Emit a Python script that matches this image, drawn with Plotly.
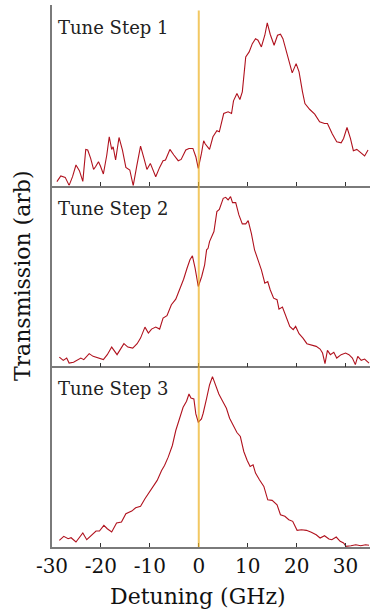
import plotly.graph_objects as go
from plotly.subplots import make_subplots

# ---- data (detuning in GHz, transmission in arbitrary units) ----
x1 = [-29.0, -28.2, -27.3, -26.5, -25.8, -25.1, -24.4, -23.7, -23.1, -22.7, -22.1, -21.5, -21.1, -20.5,
      -20.1, -19.5, -18.8, -18.3, -17.8, -17.5, -17.0, -16.3, -15.6, -14.9, -14.1, -13.4, -12.7, -11.9,
      -11.2, -10.6, -9.9, -9.3, -8.8, -8.0, -7.3, -6.8, -5.9, -5.1, -4.2, -3.6, -2.65, -2.0, -1.2, -0.6,
      -0.1, 0.55, 1.0, 1.3, 2.2, 2.9, 3.7, 4.2, 5.1, 6.0, 6.7, 7.1, 7.8, 8.4, 8.9, 9.6, 10.3, 10.95, 11.6,
      12.1, 12.8, 13.5, 14.0, 14.6, 15.4, 16.1, 16.7, 17.2, 18.0, 18.6, 19.1, 19.9, 20.5, 21.2, 21.7, 22.7,
      23.7, 24.7, 25.7, 26.3, 27.3, 28.2, 29.1, 29.6, 30.3, 31.0, 31.6, 32.3, 33.0, 33.9, 34.6]
y1 = [4, 9.7, 8.3, 0.3, 9, 20.7, 15, 4.3, 36.3, 35.7, 27.3, 16.3, 19, 24,
      19.7, 11.7, 30.7, 49, 36.3, 39, 25.7, 48.3, 35.7, 18.3, 15.7, 0, 19, 39.7,
      27.3, 16.3, 22.3, 15.7, 9, 18.3, 25, 25.7, 36.3, 30.7, 25, 26.3, 35.7, 37.3, 37.3, 29,
      17.3, 32.3, 45, 42, 36.3, 49, 55, 54, 72.3, 74, 72.3, 85, 92.3, 86.3, 94, 129, 134, 142.3, 147.3,
      145.7, 139, 150.7, 163, 151.7, 140.7, 150.7, 151.7, 147.3, 132.3, 123, 113, 122.3, 114, 94, 82.3, 76.3,
      71.7, 64, 62.3, 62.3, 51.7, 44, 43, 47.3, 58.3, 47.3, 35, 36.3, 33, 29.7, 35.7]

x2 = [-28.5, -27.7, -27.0, -26.5, -25.6, -24.8, -24.1, -23.5, -22.4, -21.6, -20.5, -19.5, -18.7, -17.8,
      -16.7, -16.1, -15.3, -14.5, -13.5, -12.6, -11.9, -11.0, -10.3, -9.65, -8.8, -8.0, -7.3, -6.5, -5.6,
      -4.7, -3.9, -3.1, -2.4, -1.8, -1.3, -0.75, -0.1, 0.6, 1.2, 1.6, 1.9, 2.2, 3.1, 3.7, 4.2, 5.0, 5.5,
      6.0, 6.5, 6.9, 7.55, 8.2, 8.9, 9.6, 10.1, 10.75, 11.4, 12.1, 12.8, 13.5, 14.1, 14.6, 15.3, 16.0,
      16.4, 17.1, 17.8, 18.6, 19.3, 19.8, 20.5, 21.3, 22.1, 23.0, 24.0, 24.8, 25.3, 25.8, 26.3, 26.9,
      27.6, 28.2, 29.1, 30.0, 30.7, 31.4, 32.0, 32.5, 33.2, 33.9, 34.8]
y2 = [9.3, 6, 8.3, 3.3, 4, 6, 8.3, 6.7, 12.7, 10, 8.3, 6.7, 11.7, 19.3,
      11.7, 16.7, 22.7, 19.3, 18.3, 22.7, 28.3, 39.3, 33.3, 37.3, 39.3, 37.3, 48.3, 50.7, 61.7,
      67.3, 76.7, 87.3, 98.3, 106.7, 110.7, 98.3, 80, 90, 101.7, 116.7, 118.3, 125, 135, 155, 157.3, 168.3, 169.3,
      166.7, 170, 164, 164, 151.7, 142.7, 142.7, 146, 133.3, 116.7, 106, 96.7, 83.3, 85, 76.7, 68.3, 66.7,
      57.3, 59.3, 50.7, 40, 36.7, 40, 32.7, 28.3, 22.7, 21.7, 20, 17.3, 13.3, 2.7, 16, 11.7,
      14, 8.3, 11.7, 13.3, 11.7, 8.3, 1.7, 10, 6, 7.3, 3.3]

x3 = [-28.5, -27.6, -26.7, -26.1, -25.1, -24.4, -23.7, -22.9, -21.9, -21.0, -20.3, -19.4, -18.7, -17.8,
      -16.8, -15.8, -14.9, -13.7, -12.9, -11.9, -11.0, -10.1, -9.3, -8.5, -7.6, -7.0, -6.25, -5.4, -4.7,
      -3.9, -3.2, -2.5, -2.0, -1.6, -1.0, -0.6, -0.1, 0.55, 0.9, 1.6, 2.2, 2.8, 3.5, 4.1, 4.8, 5.65, 6.3,
      7.0, 7.8, 8.5, 9.2, 9.9, 10.5, 11.1, 11.6, 12.4, 13.3, 14.1, 15.0, 16.0, 16.7, 17.6, 18.4, 19.2,
      20.1, 21.0, 22.0, 23.0, 24.0, 24.8, 25.7, 26.6, 27.2, 28.1, 28.9, 29.6, 30.1, 31.1, 32.1, 33.1,
      34.1, 34.8]
y3 = [6.7, 10.7, 8.3, 9.3, 5, 10, 14, 7.3, 11.7, 16, 16, 21.7, 18.3, 15,
      24, 25, 33.3, 36, 39.3, 40.7, 48.3, 55, 60, 66.7, 76.7, 81.7, 90, 101.7, 116.7,
      128.3, 140, 146, 153.3, 149.3, 148.3, 133.3, 125, 128.3, 134, 149, 162.3, 170.7, 160.7, 153.3, 146.7, 139, 129,
      122.3, 114.7, 110.7, 95.7, 86.7, 80.7, 82.3, 74, 67.3, 60.7, 47.3, 46.7, 42.3, 32.3, 30.7, 27.3, 25.7,
      16.7, 17.3, 16.7, 14.7, 12.3, 9, 11.3, 8, 7.3, 10, 5.7, 4, 0.7, 1.3, 2.3, 1.3,
      2.3, 1.7]

series_x = [x1, x2, x3]
series_y = [y1, y2, y3]
panel_labels = ["Tune Step 1", "Tune Step 2", "Tune Step 3"]
tick_vals = [-30, -20, -10, 0, 10, 20, 30]
tick_text = ["-30", "-20", "-10", "0", "10", "20", "30"]

FONT = "DejaVu Serif"
LINE_RED = "#B0121E"
AXIS_GREY = "#7a7a7a"

fig = make_subplots(rows=3, cols=1, shared_xaxes=True, vertical_spacing=0)

for i in range(3):
    fig.add_trace(go.Scatter(x=series_x[i], y=series_y[i], mode="lines",
                             line=dict(color=LINE_RED, width=1.1), showlegend=False,
                             hoverinfo="skip"),
                  row=i + 1, col=1)
    fig.update_yaxes(range=[0, 181], showline=True, linecolor=AXIS_GREY, linewidth=1.6,
                     showgrid=False, zeroline=False, showticklabels=False, ticks="",
                     row=i + 1, col=1)
    fig.update_xaxes(range=[-30, 35], showline=True, linecolor=AXIS_GREY, linewidth=1.6,
                     showgrid=False, zeroline=False, ticks="inside", ticklen=4, tickwidth=1,
                     tickcolor="#333333", tickvals=tick_vals, ticktext=tick_text,
                     showticklabels=(i == 2), row=i + 1, col=1)
    ax = "" if i == 0 else str(i + 1)
    fig.add_annotation(text=panel_labels[i], xref=f"x{ax} domain", yref=f"y{ax} domain",
                       x=0.012, y=0.875, xanchor="left", yanchor="middle", showarrow=False,
                       font=dict(family=FONT, size=18, color="#222222"))

fig.update_xaxes(tickfont=dict(family=FONT, size=20, color="#111111"), row=3, col=1)

# vertical reference line at zero detuning
fig.add_shape(type="line", xref="x", yref="paper", x0=0, x1=0, y0=0, y1=0.99,
              line=dict(color="#EDB120", width=2), opacity=0.7, layer="above")

fig.add_annotation(text="Transmission (arb)", xref="paper", yref="paper", x=-0.094, y=0.5,
                   xanchor="center", yanchor="middle", textangle=-90, showarrow=False,
                   font=dict(family=FONT, size=22, color="#111111"))
fig.add_annotation(text="Detuning (GHz)", xref="paper", yref="paper", x=0.46, y=-0.092,
                   xanchor="center", yanchor="middle", showarrow=False,
                   font=dict(family=FONT, size=22, color="#111111"))

fig.update_layout(width=370, height=613, margin=dict(l=52, r=0, t=5, b=66),
                  paper_bgcolor="white", plot_bgcolor="white", hovermode=False)

fig.write_html("out.html", config={"displayModeBar": False},
               post_script="document.body.style.margin='0';")
